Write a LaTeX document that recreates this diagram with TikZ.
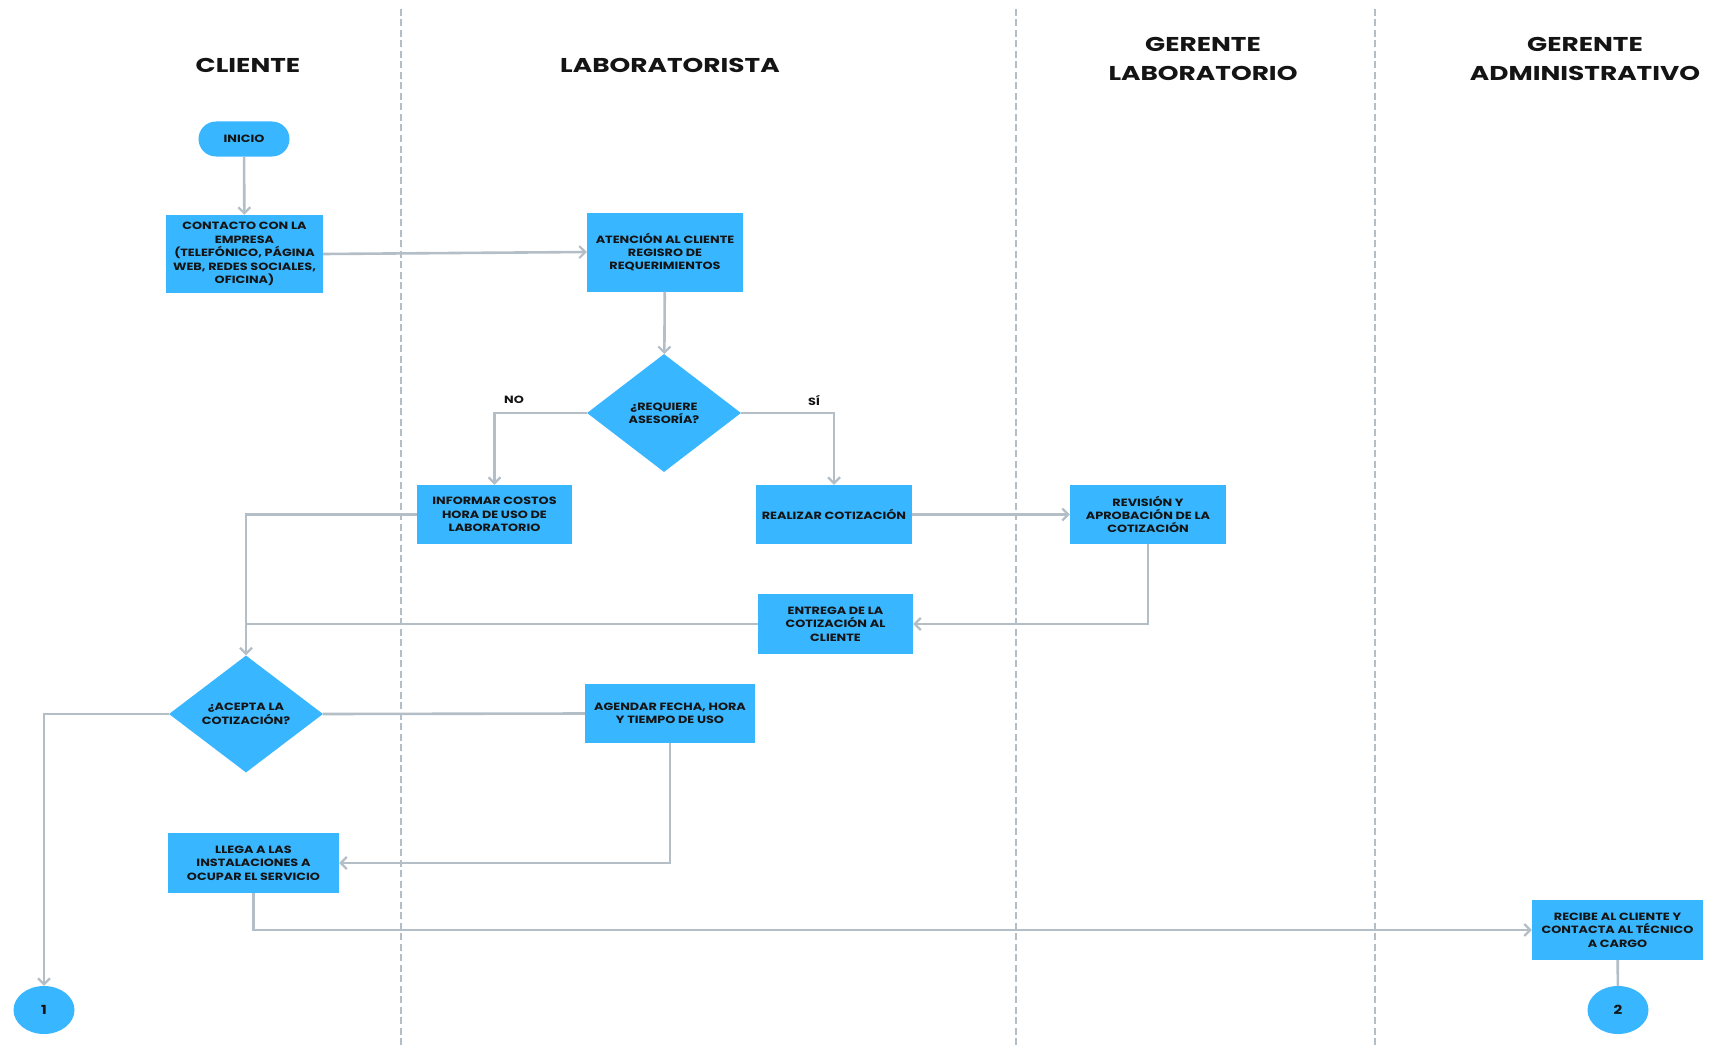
\documentclass[tikz,border=0pt]{standalone}
\usepackage{fontspec}
\setmainfont{Poppins}
\newfontfamily\boxfont{Poppins}[FakeStretch=1.22]
\newfontfamily\hdrfont{Poppins}[FakeStretch=1.32]
\usetikzlibrary{shapes.geometric,arrows.meta}
\definecolor{boxblue}{HTML}{38B6FF}
\definecolor{lgray}{HTML}{B4BEC6}
\definecolor{txt}{HTML}{141414}
\tikzset{
  boxtext/.style={font=\boxfont\bfseries\fontsize{10.5}{13.4}\selectfont, text=txt, align=center},
  procbox/.style={rectangle, fill=boxblue, inner sep=1pt, boxtext},
  decbox/.style={diamond, fill=boxblue, inner sep=0pt, boxtext},
  termbox/.style={rectangle, rounded corners=17.5pt, fill=boxblue, minimum width=91pt, minimum height=35pt, boxtext},
  connbox/.style={ellipse, fill=boxblue, minimum width=61pt, minimum height=48pt, inner sep=0pt, font=\boxfont\bfseries\fontsize{12.5}{14}\selectfont, text=txt},
  hdr/.style={font=\hdrfont\bfseries\fontsize{20}{28.5}\selectfont, text=txt, align=center},
  lbl/.style={font=\boxfont\bfseries\fontsize{10.5}{12}\selectfont, text=txt},
  conn/.style={draw=lgray, line width=2.6pt},
  tip/.style={-{Straight Barb[length=6pt,width=12pt,line width=2.2pt]}},
  lane/.style={draw=lgray, line width=2.4pt, dash pattern=on 7pt off 3.5pt}
}
\begin{document}
\begin{tikzpicture}[x=1pt,y=-1pt]
\useasboundingbox (0,0) rectangle (1715,1046);
% lanes
\draw[lane] (401,9) -- (401,1046);
\draw[lane] (1016,9) -- (1016,1046);
\draw[lane] (1375,9) -- (1375,1046);
% headers
\node[hdr] (hcli) at (248,65) {CLIENTE};
\node[hdr] (hlab) at (670,65) {LABORATORISTA};
\node[hdr] (hgl) at (1203,59) {GERENTE\\LABORATORIO};
\node[hdr] (hga) at (1585,59) {GERENTE\\ADMINISTRATIVO};
% nodes
\node[termbox] (inicio) at (244,139) {INICIO};
\node[procbox, minimum width=157pt, minimum height=78pt] (contacto) at (244.5,254) {CONTACTO CON LA\\EMPRESA\\(TELEFÓNICO, PÁGINA\\WEB, REDES SOCIALES,\\OFICINA)};
\node[procbox, minimum width=156pt, minimum height=79pt] (atencion) at (665,252) {ATENCIÓN AL CLIENTE\\REGISRO DE\\REQUERIMIENTOS};
\node[decbox, minimum width=154pt, minimum height=118pt] (req) at (664,413) {¿REQUIERE\\ASESORÍA?};
\node[procbox, minimum width=155pt, minimum height=59pt] (informar) at (494.5,514.5) {INFORMAR COSTOS\\HORA DE USO DE\\LABORATORIO};
\node[procbox, minimum width=156pt, minimum height=59pt] (realizar) at (834,514.5) {REALIZAR COTIZACIÓN};
\node[procbox, minimum width=156pt, minimum height=59pt] (revision) at (1148,514.5) {REVISIÓN Y\\APROBACIÓN DE LA\\COTIZACIÓN};
\node[procbox, minimum width=155pt, minimum height=60pt] (entrega) at (835.5,624) {ENTREGA DE LA\\COTIZACIÓN AL\\CLIENTE};
\node[decbox, minimum width=154pt, minimum height=117pt] (acepta) at (246,714) {¿ACEPTA LA\\COTIZACIÓN?};
\node[procbox, minimum width=170pt, minimum height=59pt] (agendar) at (670,713.5) {AGENDAR FECHA, HORA\\Y TIEMPO DE USO};
\node[procbox, minimum width=171pt, minimum height=60pt] (llega) at (253.5,863) {LLEGA A LAS\\INSTALACIONES A\\OCUPAR EL SERVICIO};
\node[procbox, minimum width=171pt, minimum height=60pt] (recibe) at (1617.5,930) {RECIBE AL CLIENTE Y\\CONTACTA AL TÉCNICO\\A CARGO};
\node[connbox] (c1) at (44,1010) {1};
\node[connbox] (c2) at (1618,1010) {2};
\node[lbl] (lno) at (514,400) {NO};
\node[lbl] (lsi) at (814,400) {SÍ};
% connectors
\draw[conn,tip] (inicio) -- (contacto);
\draw[conn,tip] (contacto.east) -- (atencion.west);
\draw[conn,tip] (atencion) -- (req);
\draw[conn,tip] (req.west) -| (informar.north);
\draw[conn,tip] (req.east) -| (realizar.north);
\draw[conn,tip] (realizar) -- (revision);
\draw[conn,tip] (revision.south) |- (entrega.east);
\draw[conn,tip] (informar.west) -| (acepta.north);
\draw[conn] (entrega.west) -- (entrega.west -| acepta.north);
\draw[conn] (acepta.east) -- (agendar.west);
\draw[conn,tip] (acepta.west) -| (c1.north);
\draw[conn,tip] (agendar.south) |- (llega.east);
\draw[conn,tip] (llega.south) |- (recibe.west);
\draw[conn] (recibe) -- (c2);
\end{tikzpicture}
\end{document}
